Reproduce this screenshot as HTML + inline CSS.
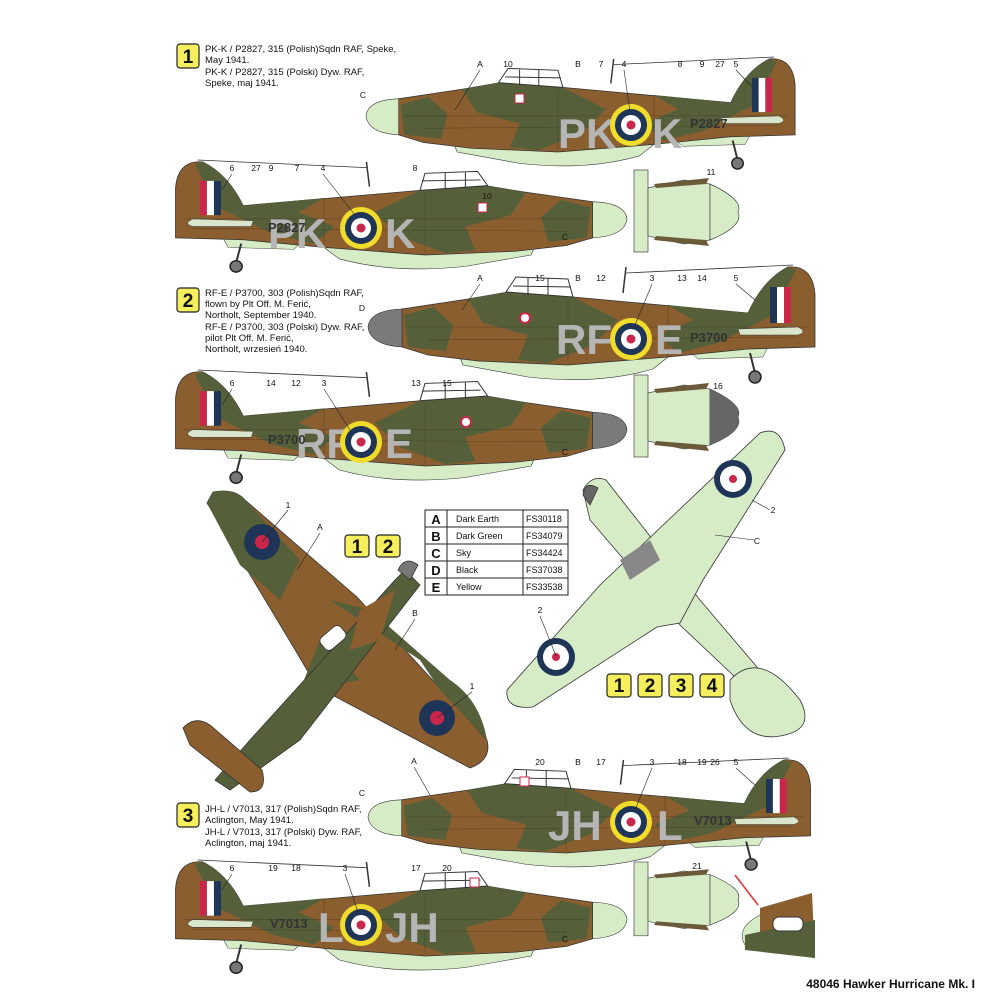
<!DOCTYPE html>
<html><head><meta charset="utf-8"><style>
body{margin:0;background:#fff;width:1000px;height:1000px;overflow:hidden}
svg{display:block}
text{font-family:"Liberation Sans",sans-serif;fill:#111}
</style></head><body>
<svg width="1000" height="1000" viewBox="0 0 1000 1000" xmlns="http://www.w3.org/2000/svg">
<defs>
<g id="side">
  <line x1="255" y1="28" x2="258" y2="2" stroke="#333" stroke-width="1.5"/>
  <line x1="258" y1="8" x2="425" y2="0" stroke="#333" stroke-width="0.8"/>
  <path d="M90,88 L300,92 L285,104 Q230,120 160,112 L95,100Z" fill="#d6ecc6" stroke="#333" stroke-width="0.6"/>
  <path d="M320,85 L400,82 L395,92 L330,94Z" fill="#d6ecc6" stroke="#333" stroke-width="0.5"/>
  <path d="M34,44 L100,34 L140,27 L195,27 L205,32 L380,48 Q395,15 420,2 Q445,0 447,30 L447,82 L380,84 L300,92 L200,100 L110,96 L60,90 L34,82Z" fill="#8b5e2f" stroke="#333" stroke-width="0.8"/>
  <path d="M100,34 L140,27 L205,32 L250,55 L225,80 L180,98 L150,95 L160,70 L115,58Z" fill="#55603a"/>
  <path d="M300,40 L380,48 Q395,15 420,2 L428,5 L405,50 L350,78 L310,88 L290,70 L325,55Z" fill="#55603a"/>
  <path d="M36,50 L65,42 L85,60 L78,86 L40,82Z" fill="#55603a"/>
  <g stroke="#3a2a1a" stroke-width="0.5" fill="none" opacity="0.6">
    <path d="M40,62 L440,62"/><path d="M60,75 L430,72"/><path d="M200,35 L200,98"/><path d="M300,40 L300,92"/>
  </g>
  <path d="M138,27 L148,12 L200,14 L205,32Z" fill="#fff" stroke="#333" stroke-width="1"/>
  <path d="M160,13 L160,30 M180,13 L180,30 M145,21 L203,22" stroke="#333" stroke-width="1"/>
  <rect x="402" y="22" width="7" height="36" fill="#1f3558"/>
  <rect x="409" y="22" width="7" height="36" fill="#fff"/>
  <rect x="416" y="22" width="7" height="36" fill="#c8264a"/>
  <path d="M370,64 L430,62 Q440,67 430,70 L372,70Z" fill="#d9e6cc" stroke="#333" stroke-width="0.5"/>
  <line x1="382" y1="88" x2="387" y2="108" stroke="#333" stroke-width="2"/>
  <circle cx="387" cy="112" r="6" fill="#777" stroke="#222" stroke-width="1.5"/>
</g>
<g id="nosebot">
  <rect x="0" y="0" width="14" height="82" fill="#d6ecc6" stroke="#444" stroke-width="0.7"/>
  <path d="M14,18 L50,10 L76,14 L76,70 L50,74 L14,66Z" fill="#d6ecc6" stroke="#444" stroke-width="0.7"/>
  <path d="M76,14 Q110,30 104,42 Q110,56 76,70Z" fill="#d6ecc6" stroke="#444" stroke-width="0.7"/>
  <path d="M20,14 L75,8 L72,14 L22,18Z M20,70 L75,76 L72,70 L22,66Z" fill="#6b5a3a"/>
</g>
</defs>

<g transform="translate(366,57) scale(0.96,0.95)"><use href="#side"/><path d="M0,62 Q2,45 34,44 L34,82 Q2,80 0,62Z" fill="#d6ecc6" stroke="#333" stroke-width="0.6"/></g>
<g transform="translate(627,160) scale(-1.01,0.95)"><use href="#side"/><path d="M0,62 Q2,45 34,44 L34,82 Q2,80 0,62Z" fill="#d6ecc6" stroke="#333" stroke-width="0.6"/></g>
<g transform="translate(368,265)"><use href="#side"/><path d="M0,62 Q2,45 34,44 L34,82 Q2,80 0,62Z" fill="#7a7a7a" stroke="#333" stroke-width="0.6"/></g>
<g transform="translate(627,370) scale(-1.01,0.96)"><use href="#side"/><path d="M0,62 Q2,45 34,44 L34,82 Q2,80 0,62Z" fill="#7a7a7a" stroke="#333" stroke-width="0.6"/></g>
<g transform="translate(368,758) scale(0.99,0.95)"><use href="#side"/><path d="M0,62 Q2,45 34,44 L34,82 Q2,80 0,62Z" fill="#d6ecc6" stroke="#333" stroke-width="0.6"/></g>
<g transform="translate(627,860) scale(-1.01,0.96)"><use href="#side"/><path d="M0,62 Q2,45 34,44 L34,82 Q2,80 0,62Z" fill="#d6ecc6" stroke="#333" stroke-width="0.6"/></g>

<g font-weight="bold" font-size="42">
<text x="558" y="148" style="fill:#b5b5b5">PK</text><text x="652" y="148" style="fill:#b5b5b5">K</text>
<text x="268" y="248" style="fill:#b5b5b5">PK</text><text x="385" y="248" style="fill:#b5b5b5">K</text>
<text x="556" y="354" style="fill:#b5b5b5">RF</text><text x="655" y="354" style="fill:#b5b5b5">E</text>
<text x="296" y="458" style="fill:#b5b5b5">RF</text><text x="385" y="458" style="fill:#b5b5b5">E</text>
<text x="548" y="840" style="fill:#b5b5b5">JH</text><text x="657" y="840" style="fill:#b5b5b5">L</text>
<text x="318" y="942" style="fill:#b5b5b5">L</text><text x="385" y="942" style="fill:#b5b5b5">JH</text>
</g>
<g font-size="13" font-weight="bold">
<text x="690" y="128" style="fill:#333">P2827</text><text x="268" y="232" style="fill:#333">P2827</text>
<text x="690" y="342" style="fill:#333">P3700</text><text x="268" y="444" style="fill:#333">P3700</text>
<text x="694" y="825" style="fill:#333">V7013</text><text x="270" y="928" style="fill:#333">V7013</text>
</g>
<g>
<g transform="translate(631,125)"><circle r="21" fill="#f0dc2a"/><circle r="16" fill="#1f3558"/><circle r="10" fill="#fff"/><circle r="4.5" fill="#c8264a"/></g>
<g transform="translate(361,228)"><circle r="21" fill="#f0dc2a"/><circle r="16" fill="#1f3558"/><circle r="10" fill="#fff"/><circle r="4.5" fill="#c8264a"/></g>
<g transform="translate(631,339)"><circle r="21" fill="#f0dc2a"/><circle r="16" fill="#1f3558"/><circle r="10" fill="#fff"/><circle r="4.5" fill="#c8264a"/></g>
<g transform="translate(361,442)"><circle r="21" fill="#f0dc2a"/><circle r="16" fill="#1f3558"/><circle r="10" fill="#fff"/><circle r="4.5" fill="#c8264a"/></g>
<g transform="translate(631,822)"><circle r="21" fill="#f0dc2a"/><circle r="16" fill="#1f3558"/><circle r="10" fill="#fff"/><circle r="4.5" fill="#c8264a"/></g>
<g transform="translate(361,925)"><circle r="21" fill="#f0dc2a"/><circle r="16" fill="#1f3558"/><circle r="10" fill="#fff"/><circle r="4.5" fill="#c8264a"/></g>
</g>
<g><rect x="515" y="94" width="9" height="9" fill="#fff" stroke="#c8264a"/><rect x="478" y="203" width="9" height="9" fill="#fff" stroke="#c8264a"/><rect x="520" y="777" width="9" height="9" fill="#fff" stroke="#c8264a"/><rect x="470" y="878" width="9" height="9" fill="#fff" stroke="#c8264a"/></g>
<circle cx="525" cy="318" r="5" fill="#fff" stroke="#c8264a" stroke-width="2"/>
<circle cx="466" cy="422" r="5" fill="#fff" stroke="#c8264a" stroke-width="2"/>

<g transform="translate(634,170)"><use href="#nosebot"/></g>
<g transform="translate(634,375)"><use href="#nosebot"/><path d="M76,14 Q110,30 104,42 Q110,56 76,70Z" fill="#666"/></g>
<g transform="translate(634,862) scale(1,0.9)"><use href="#nosebot"/></g>
<g>
  <path d="M745,945 Q735,928 760,915 L780,915 L780,945Z" fill="#d6ecc6" stroke="#444" stroke-width="0.6"/>
  <path d="M760,908 L812,893 L815,958 L760,950Z" fill="#8b5e2f"/>
  <path d="M745,935 L815,920 L815,958 L745,950Z" fill="#55603a"/>
  <rect x="773" y="917" width="30" height="14" rx="6" fill="#fff" stroke="#333"/>
  <line x1="735" y1="875" x2="758" y2="905" stroke="#e03030" stroke-width="1.5"/>
</g>

<g stroke="#333" stroke-width="0.8">
<path d="M213,492 Q235,488 245,500 L357,597 L487,740 Q492,760 470,768 L317,687 L297,653 L207,503Z" fill="#8b5e2f"/>
<path d="M213,492 Q235,488 245,500 L300,560 L280,600 L240,565 L207,503Z" fill="#55603a" stroke="none"/>
<path d="M330,600 L420,660 L440,690 L487,740 Q480,700 450,680 L370,610Z" fill="#55603a" stroke="none"/>
<path d="M320,640 L360,680 L300,690Z" fill="#55603a" stroke="none"/>
<path d="M405,570 L420,585 L300,740 L230,790 L215,780 L250,740 L395,580Z" fill="#55603a"/>
<path d="M360,610 L395,590 L380,640 L350,650Z" fill="#8b5e2f" stroke="none"/>
<path d="M183,728 Q195,715 210,725 L262,770 Q268,792 250,792 L190,745Z" fill="#8b5e2f"/>
<path d="M398,570 Q405,555 418,565 L410,580Z" fill="#777"/>
<rect x="320" y="630" width="26" height="16" rx="5" fill="#fff" transform="rotate(-40 333 638)"/>
</g>
<g transform="translate(262,542)"><circle r="18" fill="#1f3558"/><circle r="7" fill="#c8264a"/></g>
<g transform="translate(437,718)"><circle r="18" fill="#1f3558"/><circle r="7" fill="#c8264a"/></g>

<g stroke="#333" stroke-width="0.8" fill="#d6ecc6">
<path d="M583,490 Q592,474 606,480 L700,600 L785,700 L772,712 L680,625 L590,520Z"/>
<path d="M760,433 Q780,425 785,450 L703,580 L680,623 L657,627 L533,707 Q505,710 507,690 L600,585 Z"/>
<path d="M730,680 Q760,648 800,700 Q815,728 785,735 Q745,745 730,700Z"/>
<path d="M583,495 Q585,480 598,488 L590,505Z" fill="#666"/>
<path d="M620,560 L650,540 L660,560 L630,580Z" fill="#888" stroke="none"/>
</g>
<g transform="translate(733,479)"><circle r="19" fill="#1f3558"/><circle r="13" fill="#fff"/><circle r="4" fill="#c8264a"/></g>
<g transform="translate(556,657)"><circle r="19" fill="#1f3558"/><circle r="13" fill="#fff"/><circle r="4" fill="#c8264a"/></g>

<g fill="#f5ef5e" stroke="#222" stroke-width="1.2">
<rect x="177" y="44" width="22" height="24" rx="3"/>
<rect x="177" y="288" width="22" height="24" rx="3"/>
<rect x="177" y="803" width="22" height="24" rx="3"/>
<rect x="345" y="535" width="24" height="22" rx="3"/>
<rect x="376" y="535" width="24" height="22" rx="3"/>
<rect x="607" y="674" width="24" height="23" rx="3"/>
<rect x="638" y="674" width="24" height="23" rx="3"/>
<rect x="669" y="674" width="24" height="23" rx="3"/>
<rect x="700" y="674" width="24" height="23" rx="3"/>
</g>
<g font-weight="bold" font-size="19" text-anchor="middle">
<text x="188" y="63">1</text><text x="188" y="307">2</text><text x="188" y="822">3</text>
<text x="357" y="553">1</text><text x="388" y="553">2</text>
<text x="619" y="692">1</text><text x="650" y="692">2</text><text x="681" y="692">3</text><text x="712" y="692">4</text>
</g>

<g font-size="9.5">
<text x="205" y="52">PK-K / P2827, 315 (Polish)Sqdn RAF, Speke,</text>
<text x="205" y="63">May 1941.</text>
<text x="205" y="75">PK-K / P2827, 315 (Polski) Dyw. RAF,</text>
<text x="205" y="86">Speke, maj 1941.</text>
<text x="205" y="296">RF-E / P3700, 303 (Polish)Sqdn RAF,</text>
<text x="205" y="307">flown by Plt Off. M. Ferić,</text>
<text x="205" y="318">Northolt, September 1940.</text>
<text x="205" y="330">RF-E / P3700, 303 (Polski) Dyw. RAF,</text>
<text x="205" y="341">pilot Plt Off. M. Ferić,</text>
<text x="205" y="352">Northolt, wrzesień 1940.</text>
<text x="205" y="812">JH-L / V7013, 317 (Polish)Sqdn RAF,</text>
<text x="205" y="823">Aclington, May 1941.</text>
<text x="205" y="835">JH-L / V7013, 317 (Polski) Dyw. RAF,</text>
<text x="205" y="846">Aclington, maj 1941.</text>
</g>

<g stroke="#222" stroke-width="1" fill="none">
<rect x="425" y="510" width="143" height="85"/>
<line x1="425" y1="527" x2="568" y2="527"/><line x1="425" y1="544" x2="568" y2="544"/><line x1="425" y1="561" x2="568" y2="561"/><line x1="425" y1="578" x2="568" y2="578"/>
<line x1="447" y1="510" x2="447" y2="595"/><line x1="523" y1="510" x2="523" y2="595"/>
</g>
<g font-size="9">
<text x="436" y="524" text-anchor="middle" font-weight="bold" font-size="13">A</text>
<text x="436" y="541" text-anchor="middle" font-weight="bold" font-size="13">B</text>
<text x="436" y="558" text-anchor="middle" font-weight="bold" font-size="13">C</text>
<text x="436" y="575" text-anchor="middle" font-weight="bold" font-size="13">D</text>
<text x="436" y="592" text-anchor="middle" font-weight="bold" font-size="13">E</text>
<text x="456" y="522">Dark Earth</text><text x="456" y="539">Dark Green</text><text x="456" y="556">Sky</text><text x="456" y="573">Black</text><text x="456" y="590">Yellow</text>
<text x="526" y="522">FS30118</text><text x="526" y="539">FS34079</text><text x="526" y="556">FS34424</text><text x="526" y="573">FS37038</text><text x="526" y="590">FS33538</text>
</g>

<g font-size="8.5" text-anchor="middle">
<text x="480" y="67">A</text><text x="508" y="67">10</text><text x="578" y="67">B</text><text x="601" y="67">7</text><text x="624" y="67">4</text><text x="680" y="67">8</text><text x="702" y="67">9</text><text x="720" y="67">27</text><text x="736" y="67">5</text><text x="363" y="98">C</text><text x="565" y="240">C</text>
<text x="232" y="171">6</text><text x="256" y="171">27</text><text x="271" y="171">9</text><text x="297" y="171">7</text><text x="323" y="171">4</text><text x="415" y="171">8</text><text x="487" y="199">10</text><text x="711" y="175">11</text>
<text x="480" y="281">A</text><text x="540" y="281">15</text><text x="578" y="281">B</text><text x="601" y="281">12</text><text x="652" y="281">3</text><text x="682" y="281">13</text><text x="702" y="281">14</text><text x="736" y="281">5</text><text x="362" y="311">D</text><text x="565" y="455">C</text>
<text x="232" y="386">6</text><text x="271" y="386">14</text><text x="296" y="386">12</text><text x="324" y="386">3</text><text x="416" y="386">13</text><text x="447" y="386">15</text><text x="718" y="389">16</text>
<text x="288" y="508">1</text><text x="320" y="530">A</text><text x="415" y="616">B</text><text x="472" y="689">1</text><text x="773" y="513">2</text><text x="757" y="544">C</text><text x="540" y="613">2</text>
<text x="414" y="764">A</text><text x="540" y="765">20</text><text x="578" y="765">B</text><text x="601" y="765">17</text><text x="652" y="765">3</text><text x="682" y="765">18</text><text x="702" y="765">19</text><text x="715" y="765">26</text><text x="736" y="765">5</text><text x="362" y="796">C</text><text x="565" y="942">C</text>
<text x="232" y="871">6</text><text x="273" y="871">19</text><text x="296" y="871">18</text><text x="345" y="871">3</text><text x="416" y="871">17</text><text x="447" y="871">20</text><text x="697" y="869">21</text>
</g>
<g stroke="#222" stroke-width="0.6">
<line x1="480" y1="70" x2="455" y2="110"/><line x1="624" y1="70" x2="630" y2="112"/><line x1="736" y1="70" x2="755" y2="90"/>
<line x1="323" y1="174" x2="355" y2="215"/><line x1="232" y1="174" x2="222" y2="190"/>
<line x1="652" y1="284" x2="635" y2="325"/><line x1="736" y1="284" x2="755" y2="300"/><line x1="480" y1="284" x2="462" y2="310"/>
<line x1="324" y1="389" x2="350" y2="430"/><line x1="232" y1="389" x2="222" y2="405"/>
<line x1="288" y1="510" x2="262" y2="542"/><line x1="320" y1="533" x2="297" y2="570"/><line x1="415" y1="619" x2="395" y2="650"/><line x1="472" y1="692" x2="437" y2="718"/>
<line x1="770" y1="510" x2="752" y2="500"/><line x1="754" y1="540" x2="715" y2="535"/><line x1="540" y1="616" x2="556" y2="656"/>
<line x1="652" y1="768" x2="635" y2="810"/><line x1="736" y1="768" x2="755" y2="785"/><line x1="414" y1="767" x2="430" y2="795"/>
<line x1="345" y1="874" x2="358" y2="912"/><line x1="232" y1="874" x2="222" y2="890"/>
</g>

<text x="975" y="988" text-anchor="end" font-weight="bold" font-size="12">48046 Hawker Hurricane Mk. I</text>
</svg>
</body></html>
